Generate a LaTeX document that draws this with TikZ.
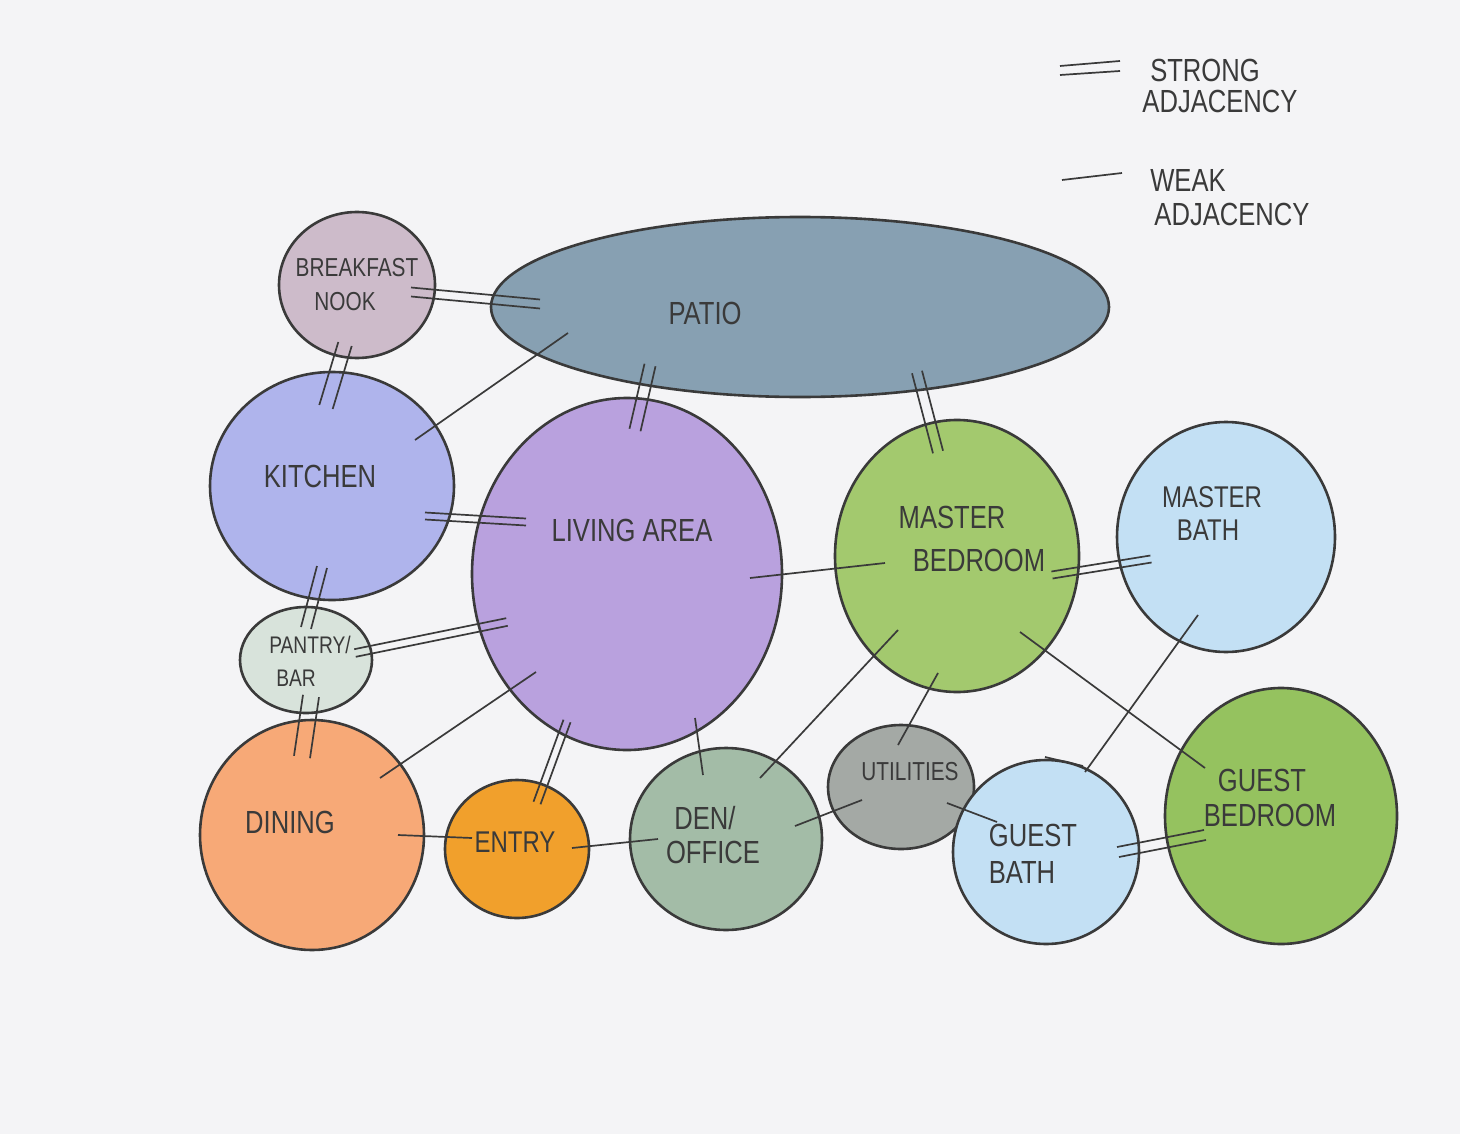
\documentclass[tikz,border=0pt]{standalone}
\usepackage{fontspec}
\newfontfamily\hand[FakeStretch=0.8]{Liberation Sans}
\usetikzlibrary{shapes.geometric}
\definecolor{paper}{HTML}{F4F4F6}
\definecolor{ink}{HTML}{3A3A3A}
\definecolor{nookc}{HTML}{CDBBCA}
\definecolor{patioc}{HTML}{87A0B2}
\definecolor{kitchenc}{HTML}{AFB4EC}
\definecolor{livingc}{HTML}{B9A1DE}
\definecolor{mbedc}{HTML}{A3C96E}
\definecolor{bathc}{HTML}{C3E0F4}
\definecolor{pantryc}{HTML}{D8E3DB}
\definecolor{diningc}{HTML}{F7A977}
\definecolor{entryc}{HTML}{F1A02C}
\definecolor{denc}{HTML}{A3BCA7}
\definecolor{utilc}{HTML}{A4A9A5}
\definecolor{gbedc}{HTML}{95C25F}
\begin{document}
\begin{tikzpicture}[x=0.5pt,y=-0.5pt,
  bubble/.style={ellipse, draw=ink, line width=1.3pt, inner sep=0pt},
  link/.style={draw=ink, line width=0.85pt},
  lbl/.style={font=\hand\fontsize{#1}{#1}\selectfont, text=ink, inner sep=0pt},
  lbl/.default=16]
\useasboundingbox (0,0) rectangle (1460,1134);
\fill[paper] (0,0) rectangle (1460,1134);

% bubbles
\node[bubble, fill=patioc,   minimum width=309pt, minimum height=90pt]  (patio)   at (800,307) {};
\node[bubble, fill=nookc,    minimum width=78pt,  minimum height=73pt]  (nook)    at (357,285) {};
\node[bubble, fill=kitchenc, minimum width=122pt, minimum height=114pt] (kitchen) at (332,486) {};
\node[bubble, fill=livingc,  minimum width=155pt, minimum height=176pt] (living)  at (627,574) {};
\node[bubble, fill=mbedc,    minimum width=122pt, minimum height=136pt] (mbed)    at (957,556) {};
\node[bubble, fill=bathc,    minimum width=109pt, minimum height=115pt] (mbath)   at (1226,537) {};
\node[bubble, fill=pantryc,  minimum width=66pt,  minimum height=53pt]  (pantry)  at (306,660) {};
\node[bubble, fill=diningc,  minimum width=112pt, minimum height=115pt] (dining)  at (312,835) {};
\node[bubble, fill=entryc,   minimum width=72pt,  minimum height=69pt]  (entry)   at (517,849) {};
\node[bubble, fill=denc,     minimum width=96pt,  minimum height=91pt]  (den)     at (726,839) {};
\node[bubble, fill=utilc,    minimum width=73pt,  minimum height=62pt]  (util)    at (901,787) {};
\node[bubble, fill=bathc,    minimum width=93pt,  minimum height=92pt]  (gbath)   at (1046,852) {};
\node[bubble, fill=gbedc,    minimum width=116pt, minimum height=128pt] (gbed)    at (1281,816) {};

% strong adjacencies (double lines)
\foreach \A/\ax/\ay/\B/\bx/\by/\px/\py in {
  nook/54/7/patio/-260/-3/0/4.5,
  nook/-12/59/kitchen/-6/-79/6.7/2,
  patio/-150/58/living/8/-144/5.5/1.3,
  patio/117/65/mbed/-19/-104/5/-1.3,
  kitchen/93/30/living/-101/-52/0/3.5,
  kitchen/-10/81/pantry/0/-32/5/1,
  pantry/49/-7/living/-120/48/0.8/3.8,
  pantry/5/36/dining/-10/-78/8/1.2,
  living/-60/147/entry/20/-46/3.5/1.3,
  mbed/95/19/mbath/-75/22/0.6/3.5,
  gbath/72/0/gbed/-76/19/1/5}{
  \foreach \o in {-1,1}{
    \draw[link] ([shift={(\ax+\o*\px,\ay+\o*\py)}]\A.center) -- ([shift={(\bx+\o*\px,\by+\o*\py)}]\B.center);
  }
}

% weak adjacencies (single lines)
\foreach \A/\ax/\ay/\B/\bx/\by in {
  kitchen/83/-46/patio/-232/26,
  living/123/4/mbed/-72/7,
  dining/68/-57/living/-91/98,
  living/68/144/den/-23/-64,
  den/34/-61/mbed/-59/74,
  mbed/-19/117/util/-3/-42,
  mbed/63/76/gbed/-76/-48,
  mbath/-28/78/gbath/39/-80,
  dining/86/0/entry/-45/-11,
  entry/55/-1/den/-68/0,
  den/69/-13/util/-39/13,
  util/46/16/gbath/-49/-30}{
  \draw[link] ([shift={(\ax,\ay)}]\A.center) -- ([shift={(\bx,\by)}]\B.center);
}
\draw[link] ([shift={(-1,-95)}]gbath.center) -- ([shift={(37,-86)}]gbath.center);

% labels
\node[lbl=13] (t-nook1) at (357,268) {BREAKFAST};
\node[lbl=13] (t-nook2) at (345,302) {NOOK};
\node[lbl] (t-patio) at (705,313) {PATIO};
\node[lbl] (t-kitchen) at (320,476) {KITCHEN};
\node[lbl] (t-living) at (632,530) {LIVING AREA};
\node[lbl] (t-mbed1) at (952,517) {MASTER};
\node[lbl] (t-mbed2) at (979,560) {BEDROOM};
\node[lbl=15] (t-mbath1) at (1212,497) {MASTER};
\node[lbl=15] (t-mbath2) at (1208,530) {BATH};
\node[lbl=12] (t-pantry1) at (310,645) {PANTRY/};
\node[lbl=12] (t-pantry2) at (296,678) {BAR};
\node[lbl] (t-dining) at (290,822) {DINING};
\node[lbl=15] (t-entry) at (515,842) {ENTRY};
\node[lbl] (t-den1) at (705,818) {DEN/};
\node[lbl] (t-den2) at (713,852) {OFFICE};
\node[lbl=13] (t-util) at (910,772) {UTILITIES};
\node[lbl] (t-gbath1) at (1033,835) {GUEST};
\node[lbl] (t-gbath2) at (1022,872) {BATH};
\node[lbl] (t-gbed1) at (1262,780) {GUEST};
\node[lbl] (t-gbed2) at (1270,815) {BEDROOM};

% legend
\node[lbl] (strong1) at (1205,70) {STRONG};
\node[lbl] (strong2) at (1220,101) {ADJACENCY};
\node[lbl] (weak1) at (1188,180) {WEAK};
\node[lbl] (weak2) at (1232,214) {ADJACENCY};
\coordinate (s1a) at (1060,66); \coordinate (s1b) at (1120,61);
\coordinate (s2a) at (1060,75); \coordinate (s2b) at (1120,71);
\coordinate (w1a) at (1062,180); \coordinate (w1b) at (1122,173);
\draw[link] (s1a) -- (s1b);
\draw[link] (s2a) -- (s2b);
\draw[link] (w1a) -- (w1b);
\end{tikzpicture}
\end{document}
